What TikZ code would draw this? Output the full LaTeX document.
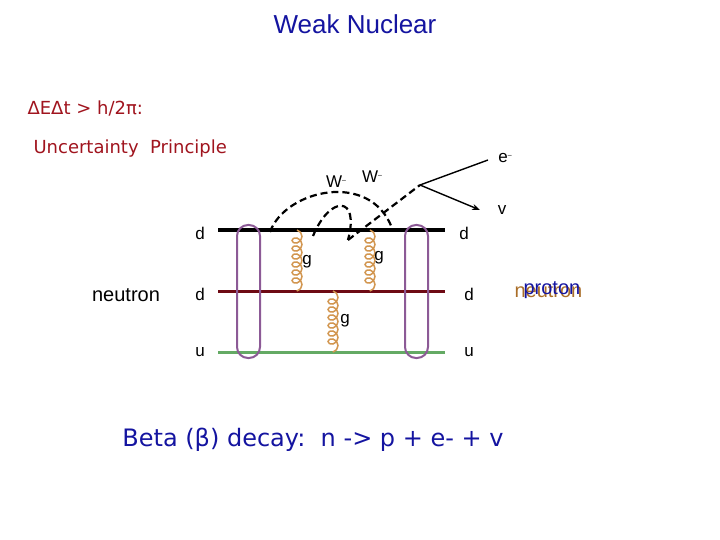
\documentclass[tikz,border=0pt]{standalone}
\usepackage{fontspec}
\setmainfont{Liberation Sans}
\newfontfamily\comic{DejaVu Sans}
\usetikzlibrary{decorations.pathmorphing,arrows.meta}
\definecolor{ttl}{RGB}{20,20,160}
\definecolor{red1}{RGB}{160,20,30}
\definecolor{dk}{RGB}{110,10,20}
\definecolor{gr}{RGB}{100,170,100}
\definecolor{pu}{RGB}{140,90,150}
\definecolor{gl}{RGB}{210,150,80}
\definecolor{brn}{RGB}{170,110,40}
\tikzset{quark/.style={line width=3pt},
 oval/.style={draw=pu,line width=2pt,rounded corners=11pt},
 gluon/.style={draw=gl,line width=1.5pt,decorate,decoration={coil,aspect=0.9,segment length=8pt,amplitude=5pt}},
 wdash/.style={line width=2.2pt,dash pattern=on 7pt off 4pt},
 lbl/.style={font=\fontsize{17}{17}\selectfont}}
\begin{document}
\begin{tikzpicture}[x=1pt,y=-1pt]
\useasboundingbox (0,0) rectangle (720,540);
\node[text=ttl,font=\fontsize{26}{26}\selectfont] (title) at (355,24) {Weak Nuclear};
\node[text=red1,anchor=west,font=\comic\fontsize{18}{18}\selectfont] (un1) at (24,108) {ΔEΔt > h/2π:};
\node[text=red1,anchor=west,font=\comic\fontsize{18}{18}\selectfont] (un2) at (30,149) {Uncertainty\ \ Principle};
\coordinate (d1a) at (218,230); \coordinate (d1b) at (445,230);
\coordinate (d2a) at (218,291); \coordinate (d2b) at (445,291);
\coordinate (ua) at (218,352); \coordinate (ub) at (445,352);
\draw[quark,black] (d1a) -- (d1b);
\draw[quark,dk] (d2a) -- (d2b);
\draw[quark,gr] (ua) -- (ub);
\coordinate (g1a) at (297,230); \coordinate (g1b) at (297,291);
\coordinate (g2a) at (370,230); \coordinate (g2b) at (370,291);
\coordinate (g3a) at (333,291); \coordinate (g3b) at (333,352);
\draw[gluon] (g1a) -- (g1b);
\draw[gluon] (g2a) -- (g2b);
\draw[gluon] (g3a) -- (g3b);
\node[lbl] (gl1) at (307,262) {g};
\node[lbl] (gl2) at (379,258) {g};
\node[lbl] (gl3) at (345,321) {g};
\draw[oval] (237,225) rectangle (260,358);
\draw[oval] (405,225) rectangle (428,358);
\node[lbl] (ld1) at (200,233) {d};
\node[lbl] (ld2) at (200,294) {d};
\node[lbl] (lu) at (200,352) {u};
\node[lbl] (rd1) at (464,233) {d};
\node[lbl] (rd2) at (469,294) {d};
\node[lbl] (ru) at (469,352) {u};
\node[font=\fontsize{20}{20}\selectfont] (neu) at (126,295) {neutron};
\node[text=brn,font=\fontsize{20}{20}\selectfont,anchor=west] (n2) at (511,291) {neutron};
\node[text=ttl,font=\fontsize{20}{20}\selectfont,anchor=west] (p2) at (520,290) {proton};
\coordinate (vx) at (420,185);
\coordinate (e) at (488,160);
\coordinate (nu) at (480,210);
\draw[wdash] (270,232) .. controls (285,190) and (370,170) .. (392,228);
\draw[wdash] (313,236) .. controls (330,195) and (360,195) .. (348,240);
\draw[wdash] (348,240) -- (vx);
\draw[line width=1.4pt] (vx) -- (e);
\draw[line width=1.4pt,-{Stealth[length=8pt]}] (vx) -- (nu);
\node[lbl] (we1) at (336,182) {W\raisebox{0.6ex}{\scriptsize --}};
\node[lbl] (we2) at (372,177) {W\raisebox{0.6ex}{\scriptsize --}};
\node[lbl] (el) at (505,158) {e\raisebox{0.6ex}{\scriptsize --}};
\node[lbl] (nl) at (502,210) {v};
\node[text=ttl,font=\comic\fontsize{24}{24}\selectfont] (beta) at (313,440) {Beta (β) decay:\ \ n -> p + e- + v};
\end{tikzpicture}
\end{document}
